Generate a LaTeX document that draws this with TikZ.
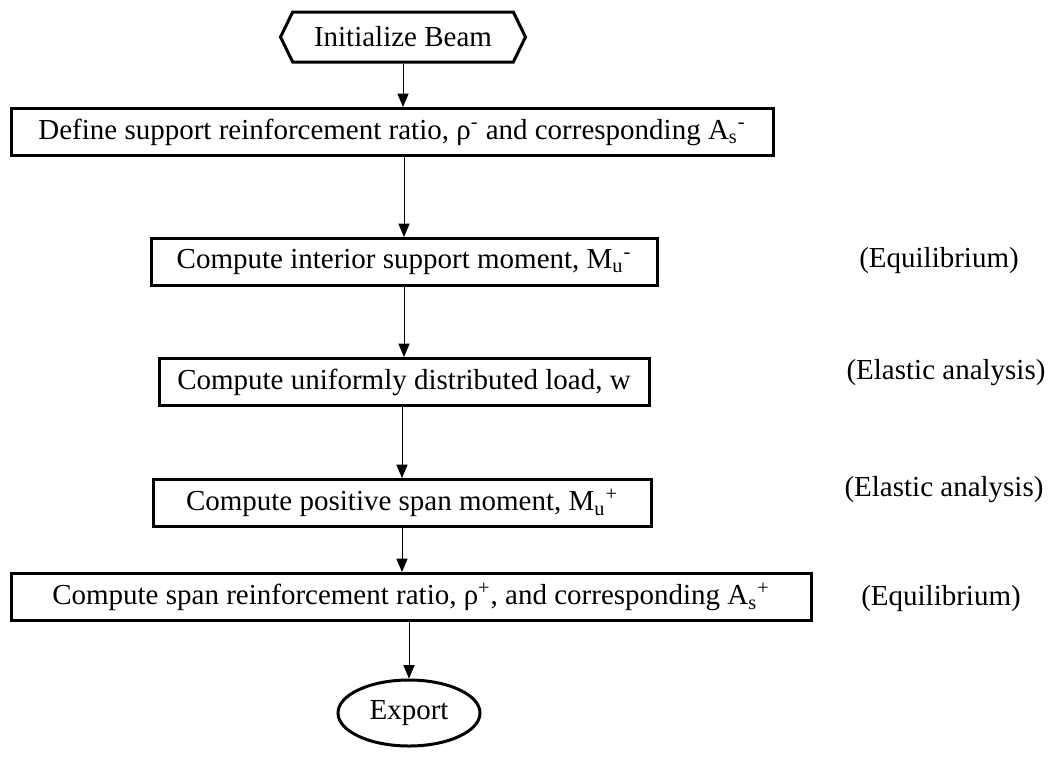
\documentclass[tikz,border=0pt]{standalone}
\usepackage{fontspec}
\setmainfont{Liberation Serif}
\usepackage{tikz}
\usetikzlibrary{arrows, shapes.symbols, shapes.geometric, positioning}

\begin{document}
\fontsize{14.5pt}{17pt}\selectfont
\begin{tikzpicture}[>=triangle 45, x=0.5pt, y=-0.5pt,
		stepbox/.style={draw, line width=1.5pt, minimum height=23.5pt, inner sep=0pt},
		flow/.style={->, line width=0.5pt},
		note/.style={inner sep=0pt}]
		\useasboundingbox (0,0) rectangle (1054,761);

		\node[draw, line width=1.5pt, signal, signal to=west and east, signal pointer angle=128, minimum width=122.5pt, minimum height=25pt, inner sep=0pt] (init) at (403,37) {Initialize Beam};

		\node[stepbox, minimum width=381pt] (define) at (392,132) {Define support reinforcement ratio, ρ\textsuperscript{-} and corresponding A\textsubscript{s}\textsuperscript{-}};
		\node[stepbox, minimum width=253pt] (support) at (404,262) {Compute interior support moment, M\textsubscript{u}\textsuperscript{-}};
		\node[stepbox, minimum width=245pt] (load) at (404,382) {Compute uniformly distributed load, w};
		\node[stepbox, minimum width=249pt] (span) at (402,503) {Compute positive span moment, M\textsubscript{u}\textsuperscript{+}};
		\node[stepbox, minimum width=400pt] (ratio) at (411,597) {Compute span reinforcement ratio, ρ\textsuperscript{+}, and corresponding A\textsubscript{s}\textsuperscript{+}};
		\node[draw, line width=1.5pt, ellipse, minimum width=71pt, minimum height=33pt, inner sep=0pt] (export) at (409,713) {Export};

		% methods
		\node[note] (eq1) at (939,261) {(Equilibrium)};
		\node[note] (el1) at (946,373) {(Elastic analysis)};
		\node[note] (el2) at (944,490) {(Elastic analysis)};
		\node[note] (eq2) at (941,599) {(Equilibrium)};

		\draw[flow] (init.south) -- (init.south |- define.north);
		\draw[flow] (define.south -| support.north) -- (support.north);
		\draw[flow] (support.south) -- (support.south |- load.north);
		\draw[flow] (load.south -| span.north) -- (span.north);
		\draw[flow] (span.south) -- (span.south |- ratio.north);
		\draw[flow] (ratio.south -| export.north) -- (export.north);
\end{tikzpicture}
\end{document}
